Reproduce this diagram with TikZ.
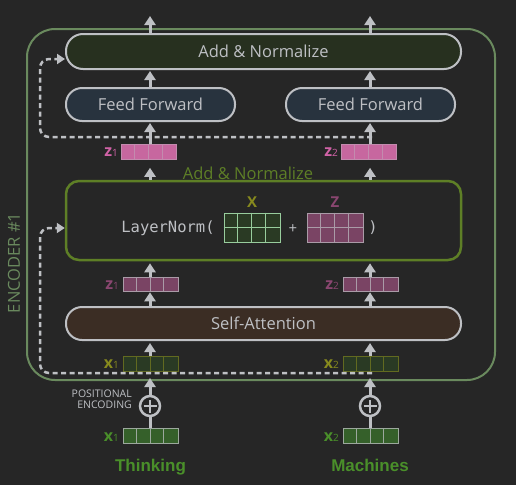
\documentclass[tikz,border=0pt]{standalone}
\usepackage{fontspec}
\setmainfont{Open Sans}
\newfontfamily\wordfont{Liberation Sans}
\newfontfamily\codefont{DejaVu Sans Mono}
\usetikzlibrary{arrows.meta}
\definecolor{bgc}{HTML}{262626}
\definecolor{linec}{HTML}{BEC0C4}
\definecolor{encc}{HTML}{6A8A5E}
\definecolor{normc}{HTML}{5E7F26}
\definecolor{addfill}{HTML}{27301F}
\definecolor{fffill}{HTML}{28333E}
\definecolor{safill}{HTML}{3B2D24}
\definecolor{olivec}{HTML}{878A1E}
\definecolor{mauvec}{HTML}{8A4670}
\definecolor{mauvefill}{HTML}{7A4464}
\definecolor{pinkc}{HTML}{D062A6}
\definecolor{pinkfill}{HTML}{C7679F}
\definecolor{darkgreen}{HTML}{2A3A24}
\definecolor{xfill}{HTML}{35602A}
\definecolor{wordc}{HTML}{4A8F2A}
\tikzset{
    block/.style={draw=linec,line width=2pt,inner sep=0pt,text=linec,
        font=\fontsize{16.5}{18}\selectfont},
    edge/.style={-{Triangle[width=11pt,length=9pt]},draw=linec,line width=3pt},
    skip/.style={-{Triangle[width=10pt,length=8pt]},draw=linec,line width=2.5pt,
        dash pattern=on 5pt off 3.5pt,rounded corners=9pt},
    vecbox/.style={rectangle,minimum width=55pt,minimum height=14.5pt,inner sep=0pt,line width=1pt},
    matbox/.style={rectangle,minimum width=56pt,minimum height=29pt,inner sep=0pt,line width=1pt},
    veclabel/.style={anchor=east,inner sep=0pt,font=\fontsize{16}{16}\selectfont},
    word/.style={anchor=base,font=\wordfont\bfseries\fontsize{17}{20}\selectfont,text=wordc}
}
\newcommand{\veclab}[2]{{\bfseries #1}{\fontsize{10}{10}\selectfont #2}}
\newcommand{\wordvec}[4]{%
  \node[vecbox,fill=#3,draw=#4] (#1) at (#2) {};
  \foreach \k in {1,2,3}
    \draw[#4,line width=1pt] ([xshift=\k*13.75pt]#1.north west) -- ([xshift=\k*13.75pt]#1.south west);
}
\newcommand{\wordmat}[4]{%
  \node[matbox,fill=#3,draw=#4] (#1) at (#2) {};
  \foreach \k in {1,2,3}
    \draw[#4,line width=1pt] ([xshift=\k*14pt]#1.north west) -- ([xshift=\k*14pt]#1.south west);
  \draw[#4,line width=1pt] (#1.west) -- (#1.east);
}

\begin{document}
\begin{tikzpicture}[x=1pt,y=-1pt]
\fill[bgc] (0,0) rectangle (516,485);
\useasboundingbox (0,0) rectangle (516,485);

% encoder frame
\node[draw=encc,line width=2pt,rounded corners=28pt,minimum width=468pt,minimum height=351pt] (enc) at (261,204.5) {};
\node[rotate=90,text=encc,font=\fontsize{16.5}{18}\selectfont] (enclabel) at (14,263) {ENCODER \#1};

% blocks
\node[block,fill=addfill,rounded corners=17pt,minimum width=395pt,minimum height=35pt] (addnorm) at (263.5,51.5) {Add \& Normalize};
\node[block,fill=fffill,rounded corners=16pt,minimum width=169pt,minimum height=33pt] (ffA) at (150.5,104.5) {Feed Forward};
\node[block,fill=fffill,rounded corners=16pt,minimum width=169pt,minimum height=33pt] (ffB) at (370.5,104.5) {Feed Forward};
\node[draw=normc,line width=2.5pt,rounded corners=13pt,minimum width=395pt,minimum height=79pt] (ln) at (263.5,220.5) {};
\node[text=normc,font=\fontsize{16.5}{18}\selectfont] (lnlabel) at (248,173) {Add \& Normalize};
\node[block,fill=safill,rounded corners=16pt,minimum width=395pt,minimum height=33pt] (sa) at (263.5,323.5) {Self-Attention};

% layer norm formula
\node[text=linec,font=\codefont\fontsize{15.5}{18}\selectfont] (lnfun) at (168,228) {LayerNorm(};
\wordmat{matX}{252,227.5}{darkgreen}{linec!80!green}
\wordmat{matZ}{335,227.5}{mauvefill}{linec!70!mauvefill}
\node[text=linec,font=\fontsize{15}{18}\selectfont] (lnplus) at (293,229) {+};
\node[text=linec,font=\codefont\fontsize{15.5}{18}\selectfont] (lnclose) at (373,228) {)};
\node[text=olivec,font=\bfseries\fontsize{15}{18}\selectfont] (labX) at (252,202) {X};
\node[text=mauvec,font=\bfseries\fontsize{15}{18}\selectfont] (labZ) at (335,202) {Z};

% vectors
\wordvec{zA}{149,152}{pinkfill}{linec!40!pinkfill}
\wordvec{zB}{369,152}{pinkfill}{linec!40!pinkfill}
\wordvec{zlA}{150.5,284.5}{mauvefill}{linec!70!mauvefill}
\wordvec{zlB}{370.5,284.5}{mauvefill}{linec!70!mauvefill}
\wordvec{xiA}{150.5,364}{darkgreen}{olivec!60!darkgreen}
\wordvec{xiB}{370.5,364}{darkgreen}{olivec!60!darkgreen}
\wordvec{xA}{150.5,436}{xfill}{linec!75!xfill}
\wordvec{xB}{370.5,436}{xfill}{linec!75!xfill}

\node[veclabel,text=pinkc] (zAl) at (118,152) {\veclab{z}{1}};
\node[veclabel,text=pinkc] (zBl) at (338,152) {\veclab{z}{2}};
\node[veclabel,text=mauvec] (zlAl) at (119,285) {\veclab{z}{1}};
\node[veclabel,text=mauvec] (zlBl) at (339,285) {\veclab{z}{2}};
\node[veclabel,text=olivec] (xiAl) at (119,364) {\veclab{x}{1}};
\node[veclabel,text=olivec] (xiBl) at (339,364) {\veclab{x}{2}};
\node[veclabel,text=wordc] (xAl) at (119,437) {\veclab{x}{1}};
\node[veclabel,text=wordc] (xBl) at (339,437) {\veclab{x}{2}};

% positional encoding
\node[circle,draw=linec,line width=2.5pt,minimum size=20pt,inner sep=0pt] (peA) at (150,406) {};
\node[circle,draw=linec,line width=2.5pt,minimum size=20pt,inner sep=0pt] (peB) at (370,406) {};
\draw[linec,line width=2.5pt] ([xshift=-6.5pt]peA.center) -- ([xshift=6.5pt]peA.center);
\draw[linec,line width=2.5pt] ([yshift=-6.5pt]peA.center) -- ([yshift=6.5pt]peA.center);
\draw[linec,line width=2.5pt] ([xshift=-6.5pt]peB.center) -- ([xshift=6.5pt]peB.center);
\draw[linec,line width=2.5pt] ([yshift=-6.5pt]peB.center) -- ([yshift=6.5pt]peB.center);
\node[anchor=east,align=right,text=linec,inner sep=0pt,font=\fontsize{10.5}{11.5}\selectfont] (pelabel) at (132,399) {POSITIONAL\\ENCODING};

\node[word] (wA) at (150.5,471.5) {Thinking};
\node[word] (wB) at (370,471.5) {Machines};

% residual connections
\coordinate (skip1) at (372,373);
\coordinate (skip2) at (372,137);
\draw[skip] (skip1) -- (40,373) -- (40,228) -- ([yshift=-7.5pt]ln.west);
\draw[skip] (skip2) -- (40,137) -- (40,59) -- ([yshift=-7.5pt]addnorm.west);

% flow
\coordinate (outA) at (150,16);
\coordinate (outB) at (370,16);
\draw[edge] (addnorm.north -| outA) -- (outA);
\draw[edge] (addnorm.north -| outB) -- (outB);
\draw[edge,shorten >=1pt] (ffA.north -| outA) -- (addnorm.south -| outA);
\draw[edge,shorten >=1pt] (ffB.north -| outB) -- (addnorm.south -| outB);
\draw[edge,shorten >=1pt] (zA.north -| outA) -- (ffA.south -| outA);
\draw[edge,shorten >=1pt] (zB.north -| outB) -- (ffB.south -| outB);
\draw[edge,shorten >=8pt] (ln.north -| outA) -- (zA.south -| outA);
\draw[edge,shorten >=8pt] (ln.north -| outB) -- (zB.south -| outB);
\draw[edge,shorten >=2pt] (zlA.north -| outA) -- (ln.south -| outA);
\draw[edge,shorten >=2pt] (zlB.north -| outB) -- (ln.south -| outB);
\draw[edge] (sa.north -| outA) -- (zlA.south -| outA);
\draw[edge] (sa.north -| outB) -- (zlB.south -| outB);
\draw[edge,shorten >=2pt] (xiA.north -| outA) -- (sa.south -| outA);
\draw[edge,shorten >=2pt] (xiB.north -| outB) -- (sa.south -| outB);
\draw[edge,shorten >=-3pt] (peA.north) -- (enc.south -| peA);
\draw[edge,shorten >=-3pt] (peB.north) -- (enc.south -| peB);
\draw[linec,line width=3pt] (xA.north -| peA) -- (peA.south);
\draw[linec,line width=3pt] (xB.north -| peB) -- (peB.south);

\end{tikzpicture}
\end{document}
